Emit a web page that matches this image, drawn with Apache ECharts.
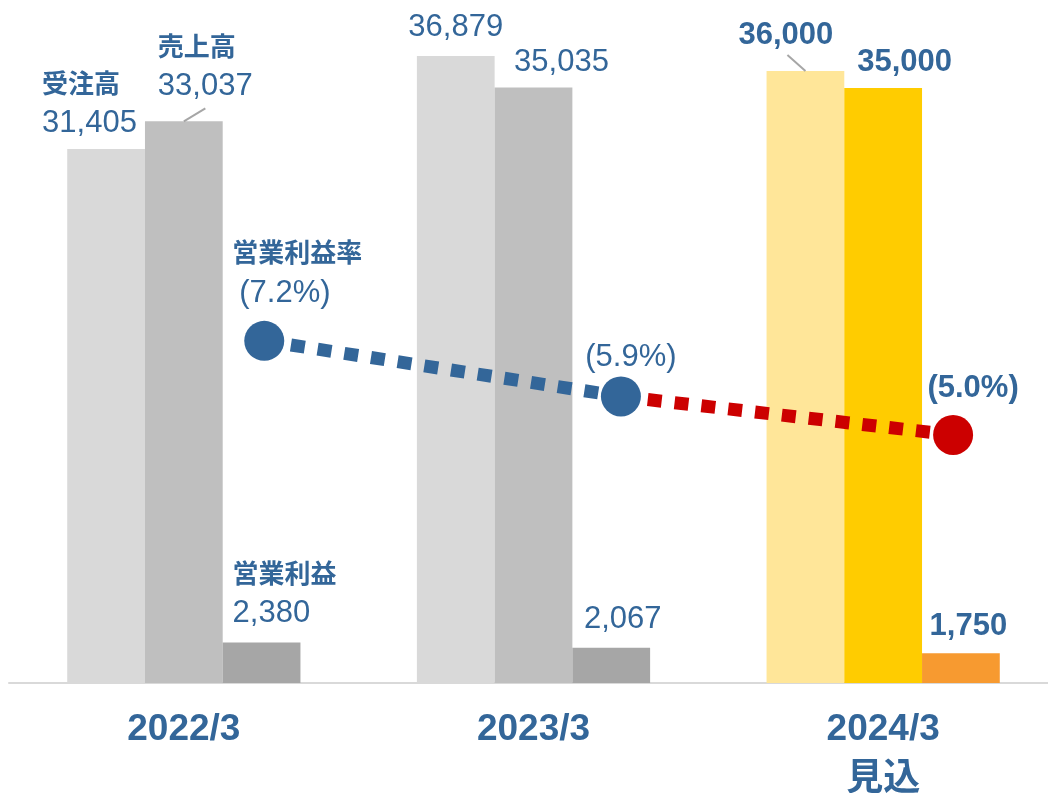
<!DOCTYPE html>
<html>
<head>
<meta charset="utf-8">
<script src="https://cdn.jsdelivr.net/npm/echarts@6/dist/echarts.min.js"></script>
<style>
html,body{margin:0;padding:0;background:#fff;overflow:hidden;}
#c{width:1048px;height:793px;position:absolute;left:0;top:0;}
</style>
</head>
<body>
<div id="c"></div>
<script>
// ---- data ----
const categories = ['2022/3', '2023/3', '2024/3'];
const categorySub = ['', '', '見込'];
const seriesNames = ['受注高', '売上高', '営業利益', '営業利益率'];
const orders = [31405, 36879, 36000];
const sales = [33037, 35035, 35000];
const profit = [2380, 2067, 1750];
const rate = [7.2, 5.9, 5.0];
const rateX = [0.73, 1.75, 2.70];   // position of each rate point along the category axis
const forecastIndex = 2;

// ---- styles ----
const BLUE = '#336699';
const RED = '#cc0000';
const NUMFONT = "'Liberation Sans', Arial, 'Noto Sans CJK JP', sans-serif";
const JPFONT = "'Noto Sans CJK JP', 'Liberation Sans', sans-serif";
const greyColors = ['#d9d9d9', '#bfbfbf', '#a6a6a6'];
const fcColors = ['#ffe699', '#ffcc00', '#f79a30'];

const rich = {
  n: { fontFamily: JPFONT, fontSize: 26, fontWeight: 'bold', color: BLUE, lineHeight: 40 },
  v: { fontFamily: NUMFONT, fontSize: 31, color: BLUE, lineHeight: 40 },
  vb: { fontFamily: NUMFONT, fontSize: 31, fontWeight: 'bold', color: BLUE, lineHeight: 40 }
};
// label placement per series / category: [dx, dy, showName]
const barLabelLayout = [
  [[-64, -6, true], [0, -9, false], [-19.5, -16, false]],
  [[-26, -15, true], [28, -5, false], [21.5, -6, false]],
  [[-29, -9, true], [11.5, -8, false], [7.5, -7, false]]
];

function fmt(v) { return v.toLocaleString('en-US'); }

function barData(values, sIdx) {
  return values.map((v, i) => {
    const lay = barLabelLayout[sIdx][i];
    const vs = i === forecastIndex ? 'vb' : 'v';
    const text = lay[2] ? '{n|' + seriesNames[sIdx] + '}\n{' + vs + '|' + fmt(v) + '}' : '{' + vs + '|' + fmt(v) + '}';
    return {
      value: v,
      itemStyle: { color: i === forecastIndex ? fcColors[sIdx] : greyColors[sIdx] },
      label: {
        show: true,
        position: 'top',
        distance: 0,
        align: lay[2] ? 'left' : 'center',
        verticalAlign: 'bottom',
        offset: [lay[0], lay[1]],
        formatter: text,
        rich: rich
      }
    };
  });
}

const chart = echarts.init(document.getElementById('c'), null, { renderer: 'canvas', width: 1048, height: 793 });

const barSeries = [orders, sales, profit].map((vals, s) => ({
  type: 'bar',
  name: seriesNames[s],
  xAxisIndex: 0,
  yAxisIndex: 0,
  barGap: '0%',
  barCategoryGap: '33.3%',
  data: barData(vals, s),
  silent: true,
  z: 2
}));

const lineCommon = {
  type: 'line',
  xAxisIndex: 1,
  yAxisIndex: 1,
  symbol: 'circle',
  symbolSize: 40,
  silent: true,
  animation: false
};

const blueSeries = Object.assign({}, lineCommon, {
  name: seriesNames[3],
  z: 6,
  lineStyle: { color: BLUE, width: 13, type: [14, 13], cap: 'butt' },
  itemStyle: { color: BLUE },
  data: [
    {
      value: [rateX[0], rate[0]],
      label: {
        show: true, position: 'top', distance: 0, align: 'left', verticalAlign: 'bottom',
        offset: [-32, -6],
        formatter: '{n|' + seriesNames[3] + '}\n{p|(' + rate[0].toFixed(1) + '%)}',
        rich: {
          n: { fontFamily: JPFONT, fontSize: 26, fontWeight: 'bold', color: BLUE, lineHeight: 42 },
          p: { fontFamily: NUMFONT, fontSize: 31, color: BLUE, lineHeight: 42, padding: [0, 0, 0, 7] }
        }
      }
    },
    {
      value: [rateX[1], rate[1]],
      label: {
        show: true, position: 'top', distance: 0, verticalAlign: 'bottom', lineHeight: 40,
        offset: [10, 1],
        formatter: '(' + rate[1].toFixed(1) + '%)',
        fontFamily: NUMFONT, fontSize: 31, color: BLUE
      }
    }
  ]
});

const redSeries = Object.assign({}, lineCommon, {
  name: seriesNames[3] + '見込',
  z: 5,
  lineStyle: { color: RED, width: 13, type: [14, 13], cap: 'butt' },
  itemStyle: { color: RED },
  data: [
    { value: [rateX[1], rate[1]], symbolSize: 0, label: { show: false } },
    {
      value: [rateX[2], rate[2]],
      label: {
        show: true, position: 'top', distance: 0, verticalAlign: 'bottom', lineHeight: 40,
        offset: [20, -6],
        formatter: '(' + rate[2].toFixed(1) + '%)',
        fontFamily: NUMFONT, fontSize: 31, fontWeight: 'bold', color: BLUE
      }
    }
  ]
});

chart.setOption({
  animation: false,
  backgroundColor: '#ffffff',
  grid: { left: 9, right: -10, top: 3, bottom: 110, containLabel: false, outerBoundsMode: 'none' },
  xAxis: [
    {
      type: 'category',
      data: categories,
      axisLine: { show: true, lineStyle: { color: '#d9d9d9', width: 2 } },
      axisTick: { show: false },
      axisLabel: {
        margin: 22,
        lineHeight: 50,
        fontFamily: NUMFONT,
        fontSize: 37,
        fontWeight: 'bold',
        color: BLUE,
        formatter: function (v, i) { return categorySub[i] ? v + '\n' + categorySub[i] : v; }
      },
      splitLine: { show: false }
    },
    { type: 'value', min: 0, max: 3, show: false }
  ],
  yAxis: [
    { type: 'value', min: 0, max: 40000, show: false, splitLine: { show: false } },
    { type: 'value', min: -0.8, max: 15.1, show: false, splitLine: { show: false } }
  ],
  series: barSeries.concat([redSeries, blueSeries])
});

// leader lines from bar tops to moved labels
function barCenterX(cat, sIdx) {
  const c = chart.convertToPixel({ xAxisIndex: 0 }, cat);
  const band = chart.convertToPixel({ xAxisIndex: 0 }, 1) - chart.convertToPixel({ xAxisIndex: 0 }, 0);
  const bw = band * (1 - 0.333) / 3;
  return c + (sIdx - 1) * bw;
}
function topY(v) { return chart.convertToPixel({ yAxisIndex: 0 }, v); }

const leaders = [
  { cat: 0, s: 1, v: sales[0], dx: 21.5, dy: -13 },
  { cat: 2, s: 0, v: orders[2], dx: -18, dy: -16 }
];
chart.setOption({
  graphic: leaders.map(l => {
    const x = barCenterX(l.cat, l.s), y = topY(l.v);
    return {
      type: 'line', z: 10, silent: true,
      shape: { x1: x, y1: y, x2: x + l.dx, y2: y + l.dy },
      style: { stroke: '#a6a6a6', lineWidth: 2 }
    };
  })
});
</script>
</body>
</html>
